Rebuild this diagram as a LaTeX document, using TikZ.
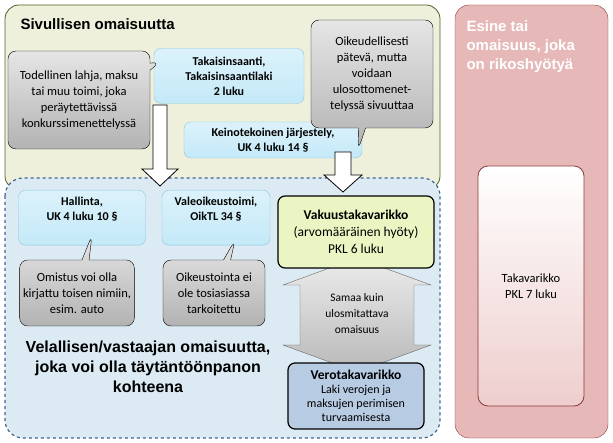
\documentclass[tikz,border=0pt]{standalone}
\usepackage{fontspec}
\setmainfont{Carlito}
\newfontfamily\arialfont{Liberation Sans}
\usetikzlibrary{shapes.callouts}
\definecolor{olivefill}{HTML}{EEF0DC}
\definecolor{oliveline}{HTML}{4F6228}
\definecolor{pinkfill}{HTML}{E6B9B8}
\definecolor{pinkline}{HTML}{8C3A38}
\definecolor{dashfill}{HTML}{DCEBF3}
\definecolor{dashline}{HTML}{41658F}
\definecolor{cyanfill}{HTML}{C4E9F8}
\definecolor{cyanline}{HTML}{8CC4DC}
\definecolor{greenfill}{HTML}{EBF5C3}
\definecolor{verofill}{HTML}{B7CBE3}
\tikzset{
  txt/.style={font=\fontsize{12.5}{16}\selectfont, align=center},
  lawbox/.style={txt, draw=cyanline, top color=cyanfill!60, bottom color=cyanfill,
    rounded corners=7pt, minimum width=#1, minimum height=55pt, font=\bfseries\fontsize{12}{15}\selectfont},
  note/.style={txt, rectangle callout, draw=black, top color=gray!20, bottom color=gray!60,
    rounded corners=8pt},
  pkl/.style={txt, draw=black, very thick, rounded corners=7pt, font=\fontsize{13.5}{17}\selectfont},
  bigarrow/.style={draw=black, fill=white, thick},
}
\begin{document}
\begin{tikzpicture}[x=1pt,y=-1pt]
\useasboundingbox (0,0) rectangle (613,443);
% frames
\draw[oliveline, fill=olivefill, thick, rounded corners=14pt] (5,5) rectangle (440,190);
\draw[pinkline, fill=pinkfill, rounded corners=14pt] (455,5) rectangle (608,438);
\draw[dashline, fill=dashfill, very thick, dashed, rounded corners=18pt] (5,178) rectangle (440,438);
\node[anchor=west, font=\arialfont\bfseries\fontsize{15}{17}\selectfont] (sivu) at (17,24) {Sivullisen omaisuutta};
\node[anchor=north west, align=left, text=white, font=\arialfont\bfseries\fontsize{15}{19}\selectfont] (esine) at (463,17)
  {Esine tai\\omaisuus, joka\\on rikoshyötyä};
\node[draw=pinkline, thick, rounded corners=10pt, top color=white, bottom color=pinkfill!70,
  minimum width=106pt, minimum height=240pt, txt] (taka) at (531,286) {Takavarikko\\PKL 7 luku};
% upper part
\node[lawbox=150pt] (takaisin) at (229,76) {Takaisinsaanti,\\Takaisinsaantilaki\\2 luku};
\node[lawbox=178pt, minimum height=36pt] (keino) at (273,140) {Keinotekoinen järjestely,\\UK 4 luku 14 §};
\node[note, minimum width=142pt, minimum height=98pt, callout absolute pointer={(160,62)}] (lahja) at (79,100)
  {Todellinen lahja, maksu\\tai muu toimi, joka\\peräytettävissä\\konkurssimenettelyssä};
\node[note, minimum width=122pt, minimum height=108pt, callout absolute pointer={(358,150)}] (patevaa) at (372,74)
  {Oikeudellisesti\\pätevä, mutta\\voidaan\\ulosottomenet-\\telyssä sivuuttaa};
\draw[bigarrow] (153,105) -- (167,105) -- (167,169) -- (178,169) -- (160,186) -- (142,169) -- (153,169) -- cycle;
\draw[bigarrow] (335,152) -- (351,152) -- (351,175) -- (362,175) -- (343,192) -- (324,175) -- (335,175) -- cycle;
% lower part
\node[lawbox=127pt, anchor=north, text depth=18pt] (hallinta) at (82,190) {Hallinta,\\UK 4 luku 10 §};
\node[lawbox=108pt, anchor=north, text depth=18pt] (vale) at (216,190) {Valeoikeustoimi,\\OikTL 34 §};
\node[note, minimum width=114pt, minimum height=66pt, callout absolute pointer={(92,235)}] (omistus) at (77,293)
  {Omistus voi olla\\kirjattu toisen nimiin,\\esim. auto};
\node[note, minimum width=102pt, minimum height=66pt, callout absolute pointer={(235,240)}] (oikeus) at (214,293)
  {Oikeustointa ei\\ole tosiasiassa\\tarkoitettu};
\draw[draw=black!60, top color=gray!15, bottom color=gray!55]
  (357,258) -- (431,285) -- (414,285) -- (414,345) -- (431,345) -- (357,372)
  -- (283,345) -- (300,345) -- (300,285) -- (283,285) -- cycle;
\node[txt, font=\fontsize{11.5}{16}\selectfont] (samaa) at (357,314) {Samaa kuin\\ulosmitattava\\omaisuus};
\node[pkl, fill=greenfill, minimum width=156pt, minimum height=72pt] (vakuus) at (356,232)
  {\textbf{Vakuustakavarikko}\\(arvomääräinen hyöty)\\PKL 6 luku};
\node[pkl, fill=verofill, minimum width=136pt, minimum height=66pt, font=\fontsize{12}{14}\selectfont] (vero) at (356,396)
  {{\fontsize{13.5}{16}\selectfont\bfseries Verotakavarikko}\\Laki verojen ja\\maksujen perimisen\\turvaamisesta};
\node[align=center, font=\arialfont\bfseries\fontsize{16}{20}\selectfont] (velallinen) at (148,367)
  {Velallisen/vastaajan omaisuutta,\\joka voi olla täytäntöönpanon\\kohteena};
\end{tikzpicture}
\end{document}
